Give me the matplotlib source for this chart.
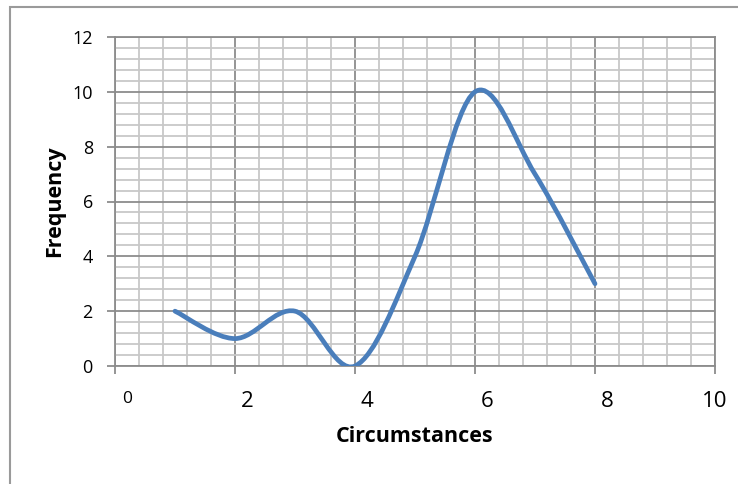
import numpy as np
import matplotlib.pyplot as plt
import matplotlib.transforms as mtransforms
from matplotlib.path import Path
from matplotlib.patches import PathPatch, Rectangle

plt.rcParams['font.family'] = ['Open Sans', 'DejaVu Sans']

# Data
circumstances = [1, 2, 3, 4, 5, 6, 7, 8]
frequency = [2, 1, 2, 0, 4, 10, 7, 3]
x_ticks = [0, 2, 4, 6, 8, 10]
y_ticks = [0, 2, 4, 6, 8, 10, 12]

fig = plt.figure(figsize=(7.38, 4.84), dpi=100)
ax = fig.add_axes([115 / 738, 118 / 484, 600 / 738, 329 / 484])

# outer chart border
fig.patches.append(Rectangle((10 / 738, -0.1), 1.0, (484 - 7) / 484 + 0.1,
                             transform=fig.transFigure, fill=False,
                             edgecolor='#9a9a9a', linewidth=1.5))

# smooth line (Excel-like bezier)
pts = np.column_stack([circumstances, frequency]).astype(float)
n = len(pts)
verts = [pts[0]]
codes = [Path.MOVETO]
for i in range(n - 1):
    p0 = pts[max(i - 1, 0)]
    p1 = pts[i]
    p2 = pts[i + 1]
    p3 = pts[min(i + 2, n - 1)]
    c1 = p1 + (p2 - p0) / 6
    c2 = p2 - (p3 - p1) / 6
    verts += [c1, c2, p2]
    codes += [Path.CURVE4] * 3
ax.add_patch(PathPatch(Path(verts, codes), facecolor='none', edgecolor='#4a7ebb',
                       linewidth=3.4, capstyle='round', zorder=5))

ax.set_xlim(0, 10)
ax.set_ylim(0, 12)
ax.set_xticks(x_ticks)
ax.set_yticks(y_ticks)
ax.set_xticks(np.arange(0, 10.01, 0.4), minor=True)
ax.set_yticks(np.arange(0, 12.01, 0.4), minor=True)

ax.grid(True, which='minor', color='#c8c8c8', linewidth=1.3)
ax.grid(True, which='major', color='#8c8c8c', linewidth=1.3)
ax.set_axisbelow(True)
for s in ax.spines.values():
    s.set_color('#8c8c8c')
    s.set_linewidth(1.3)

ax.tick_params(which='minor', length=0)
ax.tick_params(which='major', direction='out', length=6, width=1.3, color='#8c8c8c')
ax.tick_params(axis='y', pad=10, labelsize=13)
ax.tick_params(axis='x', pad=12, labelsize=16)

# x tick labels sit slightly right of their ticks
labels = ax.get_xticklabels()
for lab, v in zip(labels, x_ticks):
    if v < 10:
        off = mtransforms.ScaledTranslation(12 / 100, 0, fig.dpi_scale_trans)
        lab.set_transform(lab.get_transform() + off)
    if v == 0:
        lab.set_fontsize(12.5)

ax.set_xlabel('Circumstances', fontsize=15.5, fontweight='bold', labelpad=10)
ax.set_ylabel('Frequency', fontsize=15.5, fontweight='bold', labelpad=5)

fig.savefig('out.png', dpi=100)
